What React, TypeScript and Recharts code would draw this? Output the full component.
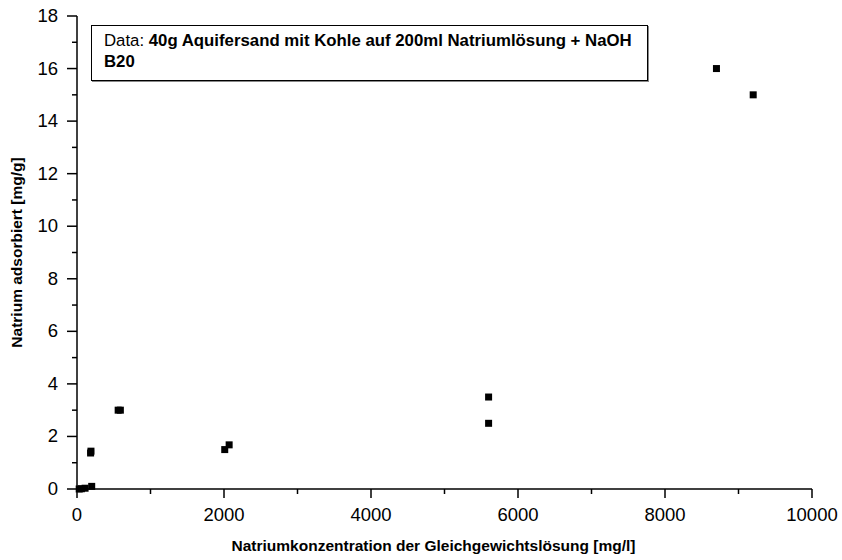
import React from 'react';
import { ScatterChart, Scatter, XAxis, YAxis } from 'recharts';

// Natrium sorption isotherm (B20)
const concentration = [30, 60, 110, 200, 185, 190, 560, 590, 2010, 2070, 5600, 5600, 8700, 9200];
const adsorbed = [0, 0.01, 0.03, 0.1, 1.37, 1.44, 3.0, 3.0, 1.5, 1.68, 3.5, 2.5, 16.0, 15.0];

const xTicks = [0, 1000, 2000, 3000, 4000, 5000, 6000, 7000, 8000, 9000, 10000];
const xLabelTicks = [0, 2000, 4000, 6000, 8000, 10000];
const yTicks = [0, 1, 2, 3, 4, 5, 6, 7, 8, 9, 10, 11, 12, 13, 14, 15, 16, 17, 18];
const yLabelTicks = [0, 2, 4, 6, 8, 10, 12, 14, 16, 18];

const points = concentration.map((c, i) => ({ x: c, y: adsorbed[i] }));

const FONT = '"Liberation Sans", Arial, Helvetica, sans-serif';

const XTick = (props: any) => {
  const { x, y, payload } = props;
  const major = xLabelTicks.includes(payload.value);
  return (
    <g>
      <line x1={x} x2={x} y1={y} y2={y + (major ? 9 : 5)} stroke="#000" strokeWidth={1.5} />
      {major && (
        <text x={x} y={y + 32} textAnchor="middle" fontSize={18.5} fontFamily={FONT} fill="#000">
          {payload.value}
        </text>
      )}
    </g>
  );
};

const YTick = (props: any) => {
  const { x, y, payload } = props;
  const major = yLabelTicks.includes(payload.value);
  return (
    <g>
      <line x1={x} x2={x - (major ? 10 : 5)} y1={y} y2={y} stroke="#000" strokeWidth={1.5} />
      {major && (
        <text x={x - 19} y={y + 6} textAnchor="end" fontSize={18.5} fontFamily={FONT} fill="#000">
          {payload.value}
        </text>
      )}
    </g>
  );
};

const SquareDot = (props: any) => {
  const { cx, cy } = props;
  if (cx == null || cy == null) return null;
  return <rect x={cx - 3.5} y={cy - 3.5} width={7} height={7} fill="#000" />;
};

const App: React.FC = () => {
  return (
    <div style={{ position: 'absolute', left: 0, top: 0, width: 842, height: 560, background: '#fff' }}>
      <ScatterChart width={842} height={560} margin={{ top: 16, right: 30, bottom: 0, left: 0 }}>
        <XAxis
          type="number"
          dataKey="x"
          domain={[0, 10000]}
          ticks={xTicks}
          interval={0}
          height={71}
          tickSize={0}
          tickMargin={0}
          tickLine={false}
          axisLine={{ stroke: '#000', strokeWidth: 1.5 }}
          tick={<XTick />}
          label={{
            value: 'Natriumkonzentration der Gleichgewichtslösung [mg/l]',
            position: 'center',
            dx: -11,
            dy: 21,
            style: { fontSize: 15.5, fontWeight: 'bold', fontFamily: FONT, fill: '#000' },
          }}
        />
        <YAxis
          type="number"
          dataKey="y"
          domain={[0, 18]}
          ticks={yTicks}
          interval={0}
          width={77}
          tickSize={0}
          tickMargin={0}
          tickLine={false}
          axisLine={{ stroke: '#000', strokeWidth: 1.5 }}
          tick={<YTick />}
          label={{
            value: 'Natrium adsorbiert [mg/g]',
            position: 'center',
            angle: -90,
            dx: -22,
            style: { fontSize: 15.5, fontWeight: 'bold', fontFamily: FONT, fill: '#000', textAnchor: 'middle' },
          }}
        />
        <Scatter data={points} fill="#000" shape={<SquareDot />} isAnimationActive={false} />
      </ScatterChart>
      <div
        style={{
          position: 'absolute',
          left: 91,
          top: 25,
          width: 557,
          height: 56,
          boxSizing: 'border-box',
          border: '1px solid #000',
          boxShadow: '1px 1px 0 #888',
          background: '#fff',
          padding: '4px 0 0 12px',
          fontFamily: FONT,
          fontSize: 16.8,
          lineHeight: '21px',
          color: '#000',
        }}
      >
        <div>
          Data: <b>40g Aquifersand mit Kohle auf 200ml Natriumlösung + NaOH</b>
        </div>
        <div>
          <b>B20</b>
        </div>
      </div>
    </div>
  );
};

export default App;
